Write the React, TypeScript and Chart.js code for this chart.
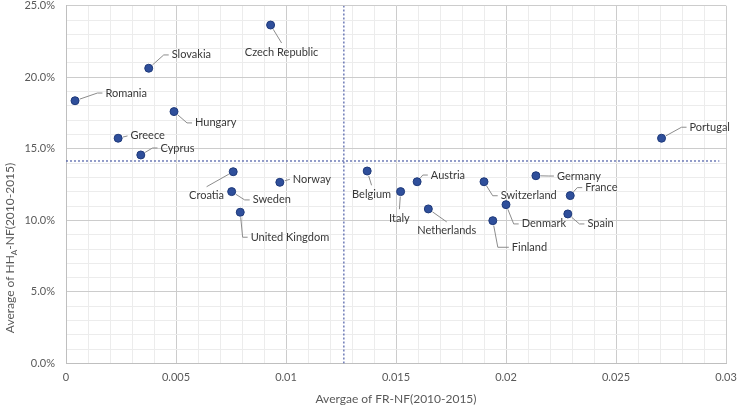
import React, { useEffect, useRef } from 'react';
import { Chart, registerables } from 'chart.js';

Chart.register(...registerables);

const countries = [
  'Romania', 'Slovakia', 'Czech Republic', 'Hungary', 'Greece', 'Cyprus',
  'Croatia', 'Sweden', 'United Kingdom', 'Norway', 'Belgium', 'Italy',
  'Austria', 'Netherlands', 'Portugal', 'Germany', 'Switzerland', 'France',
  'Denmark', 'Finland', 'Spain',
];
const frNf = [
  0.00041, 0.00376, 0.0093, 0.00491, 0.00237, 0.0034,
  0.0076, 0.00753, 0.00792, 0.00972, 0.01369, 0.01521,
  0.01596, 0.01647, 0.02707, 0.02136, 0.019, 0.02292,
  0.02, 0.0194, 0.02281,
];
const hhaNf = [
  0.1836, 0.2063, 0.2365, 0.176, 0.1574, 0.1457,
  0.134, 0.1201, 0.1057, 0.1266, 0.1345, 0.1201,
  0.127, 0.108, 0.1574, 0.1312, 0.127, 0.1173,
  0.111, 0.0998, 0.1045,
];
const avgFrNf = 0.01263;
const avgHhaNf = 0.1415;
const xMax = 0.03;
const yMax = 0.25;
const xTickLabels = ['0', '0.005', '0.01', '0.015', '0.02', '0.025', '0.03'];
const yTickLabels = ['0.0%', '5.0%', '10.0%', '15.0%', '20.0%', '25.0%'];

// label placement (style): offset of the text anchor from the point, alignment
const labelPlacement: Record<string, [number, number, 'left' | 'center', number?]> = {
  Romania: [30.4, -7.7, 'left'],
  Slovakia: [23, -13.3, 'left'],
  'Czech Republic': [11, 27, 'center'],
  Hungary: [21, 11.3, 'left'],
  Greece: [12.4, -2.3, 'left'],
  Cyprus: [19.7, -7, 'left'],
  Croatia: [-26.6, 24, 'center'],
  Sweden: [21, 8.3, 'left'],
  'United Kingdom': [10.4, 25, 'left'],
  Norway: [13, -3, 'left'],
  Belgium: [4.4, 23.3, 'center'],
  Italy: [-1.2, 26.6, 'center'],
  Austria: [13.7, -6.7, 'left'],
  Netherlands: [18.4, 22, 'center'],
  Portugal: [28, -11, 'left'],
  Germany: [21, 0.3, 'left'],
  Switzerland: [16.7, 14, 'left'],
  France: [15, -8, 'left'],
  Denmark: [15.7, 19.3, 'left'],
  Finland: [19, 26.6, 'left', 14],
  Spain: [19.6, 10, 'left'],
};

const FONT = 'Lato, "Open Sans", sans-serif';
const LABEL_COLOR = '#383838';
const TICK_COLOR = '#595959';

const labelsPlugin = {
  id: 'pointLabels',
  afterDatasetsDraw(chart: any) {
    const ctx = chart.ctx;
    const meta = chart.getDatasetMeta(0);
    ctx.save();
    ctx.font = `11px ${FONT}`;
    ctx.fillStyle = LABEL_COLOR;
    ctx.strokeStyle = '#8c8c8c';
    ctx.lineWidth = 1;
    ctx.textBaseline = 'middle';
    countries.forEach((name, i) => {
      const el = meta.data[i];
      const px = el.x, py = el.y;
      const pl = labelPlacement[name];
      if (!pl) return;
      const [dx, dy, align, elb] = pl;
      const tx = px + dx, ty = py + dy;
      const pts: [number, number][] = [];
      if (align === 'left') {
        const ex = tx - (elb ?? 8), ey = ty;
        const end: [number, number] = [tx - 3, ty];
        const ddx = ex - px, ddy = ey - py;
        const d = Math.hypot(ddx, ddy);
        if (d > 6) {
          pts.push([px + (ddx / d) * 5, py + (ddy / d) * 5], [ex, ey], end);
        } else {
          const fx = end[0] - px, fy = end[1] - py;
          const fd = Math.hypot(fx, fy);
          pts.push([px + (fx / fd) * 5, py + (fy / fd) * 5], end);
        }
      } else {
        const end: [number, number] = [tx, ty - 9];
        const fx = end[0] - px, fy = end[1] - py;
        const fd = Math.hypot(fx, fy);
        pts.push([px + (fx / fd) * 5, py + (fy / fd) * 5], end);
      }
      ctx.beginPath();
      ctx.moveTo(pts[0][0], pts[0][1]);
      for (let k = 1; k < pts.length; k++) ctx.lineTo(pts[k][0], pts[k][1]);
      ctx.stroke();
      ctx.textAlign = align;
      ctx.fillText(name, tx, ty);
    });
    ctx.restore();
  },
};

const titlesPlugin = {
  id: 'axisTitles',
  afterDraw(chart: any) {
    const ctx = chart.ctx;
    const area = chart.chartArea;
    ctx.save();
    ctx.fillStyle = TICK_COLOR;
    ctx.textBaseline = 'middle';
    ctx.font = `12px ${FONT}`;
    ctx.textAlign = 'center';
    ctx.fillText('Avergae of FR-NF(2010-2015)', (area.left + area.right) / 2, 399);
    ctx.translate(10, 248);
    ctx.rotate(-Math.PI / 2);
    const p1 = 'Average of HH';
    const sub = 'A';
    const p2 = '-NF(2010-2015)';
    const mainFont = `12px ${FONT}`;
    const subFont = `8px ${FONT}`;
    ctx.font = mainFont;
    const w1 = ctx.measureText(p1).width;
    const w3 = ctx.measureText(p2).width;
    ctx.font = subFont;
    const w2 = ctx.measureText(sub).width;
    const total = w1 + w2 + w3;
    let x = -total / 2;
    ctx.textAlign = 'left';
    ctx.font = mainFont;
    ctx.fillText(p1, x, 0);
    x += w1;
    ctx.font = subFont;
    ctx.fillText(sub, x, 4);
    x += w2;
    ctx.font = mainFont;
    ctx.fillText(p2, x, 0);
    ctx.restore();
  },
};

export default function App() {
  const ref = useRef<HTMLCanvasElement>(null);
  useEffect(() => {
    document.body.style.margin = '0';
    const canvas = ref.current!;
    const points = frNf.map((x, i) => ({ x, y: hhaNf[i] }));
    const chart = new Chart(canvas, {
      type: 'scatter',
      data: {
        datasets: [
          {
            label: 'Countries',
            data: points,
            backgroundColor: '#2f4f9b',
            borderColor: '#1f3a7a',
            borderWidth: 1,
            pointRadius: 4,
            order: 0,
          },
          {
            type: 'line',
            label: 'avgY',
            data: [{ x: 0, y: avgHhaNf }, { x: 0.0297, y: avgHhaNf }],
            borderColor: '#4c5ca6',
            borderWidth: 1.2,
            borderDash: [2, 2],
            pointRadius: 0,
            fill: false,
            order: 1,
          } as any,
          {
            type: 'line',
            label: 'avgX',
            data: [{ x: avgFrNf, y: 0 }, { x: avgFrNf, y: yMax }],
            borderColor: '#4c5ca6',
            borderWidth: 1.2,
            borderDash: [2, 2],
            pointRadius: 0,
            fill: false,
            order: 1,
          } as any,
        ],
      },
      options: {
        animation: false,
        responsive: false,
        maintainAspectRatio: false,
        layout: { padding: { top: 5.7, right: 12, left: 0, bottom: 0 } },
        plugins: {
          legend: { display: false },
          tooltip: { enabled: false },
        },
        scales: {
          x: {
            type: 'linear',
            min: 0,
            max: xMax,
            afterFit: (s: any) => {
              s.height = 43.5;
              s.paddingLeft = 0;
              s.paddingRight = 0;
            },
            afterBuildTicks: (s: any) => {
              const t = [];
              for (let i = 0; i <= 30; i++) t.push({ value: i * 0.001 });
              s.ticks = t;
            },
            ticks: {
              autoSkip: false,
              maxRotation: 0,
              padding: 7,
              color: TICK_COLOR,
              font: { family: FONT, size: 11 },
              callback: (_v: any, i: number) => (i % 5 === 0 ? xTickLabels[i / 5] : ''),
            },
            grid: {
              color: (c: any) => (c.index % 5 === 0 ? '#cccccc' : '#ececec'),
              lineWidth: 1,
              drawTicks: false,
            },
            border: { color: '#bfbfbf', width: 1 },
          },
          y: {
            type: 'linear',
            min: 0,
            max: yMax,
            afterFit: (s: any) => {
              s.width = 66;
              s.paddingTop = 0;
              s.paddingBottom = 0;
            },
            afterBuildTicks: (s: any) => {
              const t = [];
              for (let i = 0; i <= 25; i++) t.push({ value: i * 0.01 });
              s.ticks = t;
            },
            ticks: {
              autoSkip: false,
              padding: 11,
              color: TICK_COLOR,
              font: { family: FONT, size: 11 },
              callback: (_v: any, i: number) => (i % 5 === 0 ? yTickLabels[i / 5] : ''),
            },
            grid: {
              color: (c: any) => (c.index % 5 === 0 ? '#cccccc' : '#ececec'),
              lineWidth: 1,
              drawTicks: false,
            },
            border: { color: '#bfbfbf', width: 1 },
          },
        },
      },
      plugins: [labelsPlugin, titlesPlugin],
    } as any);
    return () => chart.destroy();
  }, []);
  return (
    <div style={{ width: 738, height: 407 }}>
      <canvas ref={ref} width={738} height={407} style={{ display: 'block' }} />
    </div>
  );
}
